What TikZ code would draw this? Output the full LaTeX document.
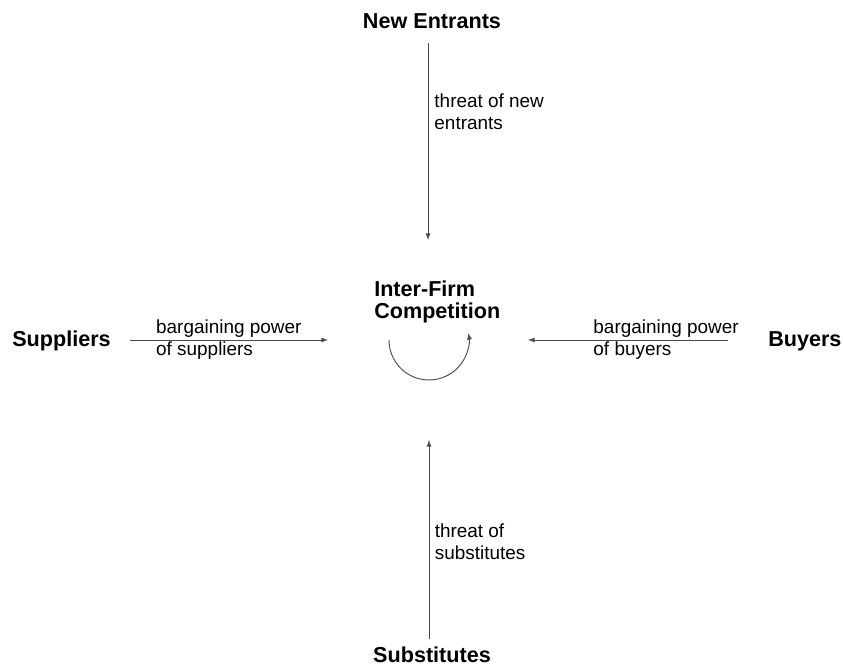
\documentclass[tikz,border=0pt]{standalone}
\usepackage{fontspec}
\setmainfont{Liberation Sans}
\usetikzlibrary{calc}

\tikzset{
  force/.style={font=\bfseries\fontsize{16.2}{16.5}\selectfont, inner sep=0pt},
  power/.style={->, draw=black!70, line width=0.7pt},
  lbl/.style={font=\fontsize{14.2}{16.5}\selectfont, align=left, inner sep=0pt}
}

\begin{document}
\begin{tikzpicture}[x=0.75pt, y=-0.75pt, >=latex]
  \useasboundingbox (0,0) rectangle (843,666);

  % the five forces
  \node[force] (newent) at (432,21) {New Entrants};
  \node[force, anchor=west, align=left] (firms) at (374,302) {Inter-Firm\\Competition};
  \node[force, anchor=base west] (supp) at (12,347) {Suppliers};
  \node[force, anchor=base west] (buy) at (768,347) {Buyers};
  \node[force] (subst) at (432,655) {Substitutes};

  % free arrow ends
  \coordinate (ntip) at (428,240);
  \coordinate (stip) at (429,440);
  \coordinate (ltip) at (328,340);
  \coordinate (rtip) at (528,340);
  \coordinate (rivalry) at (389,340);

  \draw[power] ($(newent.south -| ntip)+(0,14)$) -- (ntip)
    node[lbl, pos=0.35, anchor=west, xshift=4.5pt] {threat of new\\entrants};
  \draw[power] ($(subst.north -| stip)+(0,-8)$) -- (stip)
    node[lbl, pos=0.49, anchor=west, xshift=4pt] {threat of\\substitutes};
  \draw[power] ($(supp.east |- ltip)+(19,0)$) -- (ltip)
    node[lbl, pos=0.13, anchor=west] {bargaining power\\of suppliers};
  \draw[power] ($(buy.west |- rtip)+(-40,0)$) -- (rtip)
    node[lbl, pos=0.675, anchor=west] {bargaining power\\of buyers};

  % rivalry among firms
  \draw[power] (rivalry) arc[start angle=180, end angle=-10, radius=40];
\end{tikzpicture}
\end{document}
